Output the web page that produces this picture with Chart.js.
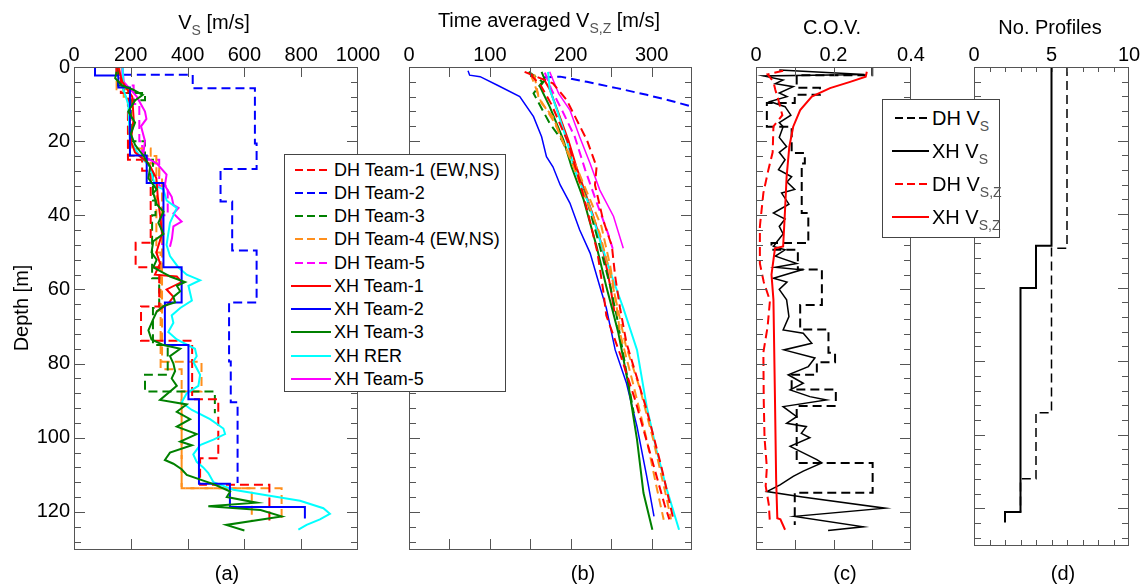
<!DOCTYPE html>
<html>
<head>
<meta charset="utf-8">
<script src="https://cdn.jsdelivr.net/npm/chart.js@4.4.1/dist/chart.umd.min.js"></script>
<style>
  body { margin: 0; background: #fff; }
  #fig { position: relative; width: 1145px; height: 586px; overflow: hidden;
         font-family: 'Liberation Sans', Arial, sans-serif; color: #000; }
  canvas { position: absolute; top: 0; }
  .lbl { position: absolute; font-size: 20px; line-height: 24px; white-space: nowrap; transform: translateX(-50%); }
  sub { font-size: 14px; color: #555; vertical-align: -6px; line-height: 0; }
  .legbox { position: absolute; box-sizing: border-box; background: #fff; border: 1px solid #444; z-index: 5; }
  .fila { position: absolute; left: 0; display: flex; align-items: center; white-space: nowrap; }
  .fila svg { flex: none; }
</style>
</head>
<body>
<div id="fig">
  <canvas id="panelA" width="384" height="586" style="left:0px"></canvas>
  <canvas id="panelB" width="340" height="586" style="left:380px"></canvas>
  <canvas id="panelC" width="210" height="586" style="left:720px"></canvas>
  <canvas id="panelD" width="215" height="586" style="left:930px"></canvas>

  <div class="lbl" style="left:214px;top:10px">V<sub>S</sub> [m/s]</div>
  <div class="lbl" style="left:549px;top:8px">Time averaged V<sub>S,Z</sub> [m/s]</div>
  <div class="lbl" style="left:832px;top:15px">C.O.V.</div>
  <div class="lbl" style="left:1050px;top:15px">No. Profiles</div>

  <div class="lbl" style="left:227px;top:561px">(a)</div>
  <div class="lbl" style="left:583px;top:561px">(b)</div>
  <div class="lbl" style="left:845px;top:561px">(c)</div>
  <div class="lbl" style="left:1063px;top:561px">(d)</div>

  <div id="legA" class="legbox" style="left:284px;top:154px;width:222px;height:238px"></div>
  <div id="legC" class="legbox" style="left:882px;top:99px;width:118px;height:139px"></div>
</div>
<script>
// Colores de cada equipo
const ROJO = '#ff0000', AZUL = '#0000ff', VERDE = '#008000', NARANJA = '#ff8f1c',
      MAGENTA = '#ff00ff', CIAN = '#00ffff', NEGRO = '#000000';

// ---- Panel (a): Vs [m/s] y profundidad [m] ----
// Perfiles DH escalonados: valor de cada capa y profundidad de su techo
const aDh1Vs = [150, 165, 190, 240, 270, 217, 300, 236, 416, 508, 444, 688, 688];
const aDh1Z  = [0, 3, 7, 25, 28, 47.4, 54, 64.6, 73.8, 89.6, 105.5, 112.7, 122.6];
const aDh2Vs = [150, 418, 637, 643, 516, 557, 643, 546, 552, 576, 576];
const aDh2Z  = [0, 2.1, 5.7, 20.6, 27.5, 36.3, 49.5, 63.5, 79.4, 90.4, 112.2];
const aDh3Vs = [155, 175, 250, 200, 250, 278, 287, 275, 300, 278, 330, 250, 496, 496];
const aDh3Z  = [0, 5, 7, 9, 20, 25, 36, 40, 57, 65, 75, 83, 87.5, 93.4];
const aDh4aVs = [160, 175, 200, 270, 300, 310, 449, 379, 731, 731];
const aDh4aZ  = [0, 4, 8, 22, 26, 30, 79.5, 87.5, 113.6, 122.6];
const aDh4bVs = [150, 190, 290, 305, 379, 626, 626];
const aDh4bZ  = [0, 6, 24, 50, 81.5, 113.6, 122.6];
const aDh5Vs = [170, 210, 230, 240, 300, 330, 310, 310];
const aDh5Z  = [0, 5, 10, 20, 25, 32, 40, 48];
const aXh2Vs = [74, 156, 197, 256, 315, 379, 320, 403, 440, 549, 813, 813];
const aXh2Z  = [0, 2.3, 5.5, 23.9, 31.3, 54, 63.5, 75, 89.6, 112.4, 118.7, 121.8];
// Perfiles XH continuos
const aXh1Vs = [156, 170, 205, 210, 200, 215, 263, 290, 295, 303, 310, 290, 303, 285, 362, 379, 326, 350, 330, 290];
const aXh1Z  = [0, 4, 8, 14, 20, 23, 26, 30, 35, 40, 45, 50, 53, 56, 56.5, 58, 60, 62, 64, 66];
const aXh3Vs = [150, 145, 169, 205, 242, 215, 191, 215, 200, 215, 245, 268, 262, 291, 279, 291, 315, 297, 315, 279,
                273, 291, 279, 315, 338, 391, 362, 374, 350, 356, 315, 291, 279, 262, 273, 315, 374, 338, 350, 356,
                344, 362, 303, 397, 362, 409, 362, 432, 374, 415, 338, 320, 350, 379, 397, 491, 550, 538, 643, 473,
                657, 731, 536, 600];
const aXh3Z  = [1.3, 3, 5, 6, 7.5, 9, 12, 15, 18, 21, 24, 27, 30, 33, 34, 37, 39, 42, 45, 47,
                50, 52, 54, 55.5, 56.5, 58, 59, 60.5, 62, 63.5, 64.5, 66, 68, 71, 73.5, 75, 76, 78, 80, 82,
                84, 86, 89.8, 91, 93, 95, 97, 99, 101, 102, 104, 106, 107, 108.5, 110, 112.5, 114.5, 116, 117.5, 118.5,
                119.5, 121.2, 123.5, 125];
const aRerVs = [171, 174, 191, 197, 232, 268, 285, 315, 326, 362, 338, 326, 338, 367, 397, 444, 403, 415, 374, 344,
                350, 332, 362, 426, 432, 420, 444, 438, 397, 379, 415, 479, 526, 532, 491, 444, 420, 432, 455, 473,
                491, 561, 678, 796, 878, 901, 866, 819, 790];
const aRerZ  = [0, 6, 10, 20, 24, 27, 32, 33, 36, 38, 42, 48, 51, 54, 56, 57.5, 59, 63, 65, 67,
                69, 71.5, 73.5, 76, 78, 79.5, 83, 86, 88, 90.5, 92.5, 95, 97.5, 99, 100.5, 102, 104.5, 106.5, 108, 109.5,
                112, 114, 115.5, 117, 119, 120.5, 122, 123.5, 124.8];
const aXh5Vs = [171, 175, 221, 250, 255, 236, 250, 243, 291, 326, 320, 344, 350, 368, 350, 379, 350, 345, 338];
const aXh5Z  = [0, 4, 8, 12, 14, 16, 20, 24, 26, 29, 32, 35, 37.2, 38, 39.5, 41.7, 43, 46.2, 48.5];

// ---- Panel (b): Vs,z promedio en el tiempo [m/s] ----
const bDh1aVs = [143, 178, 195, 220, 232, 230, 240, 251, 255, 261, 269, 294, 312, 327];
const bDh1aZ  = [1.3, 4.4, 8.9, 19.7, 26.9, 31.8, 41.2, 48.4, 56.5, 65, 74.5, 92.5, 107.7, 122];
const bDh1bVs = [150, 163, 176, 196, 210, 222, 233, 240, 244, 262, 280, 298, 316, 322];
const bDh1bZ  = [2, 5, 10, 20, 30, 40, 50, 60, 67, 78, 90, 104, 118, 122];
const bDh2Vs = [166, 187, 220, 257, 294, 327, 350, 362];
const bDh2Z  = [2.8, 2.6, 4, 5.7, 7.5, 9.3, 10.7, 11.4];
const bDh3Vs = [148, 165, 154, 174, 189, 201, 220, 236, 249, 257, 267, 278];
const bDh3Z  = [1.3, 4, 7.1, 15.2, 19.7, 25.1, 35.8, 48.4, 59.2, 67.3, 80, 93.4];
const bDh4aVs = [150, 164, 178, 191, 207, 224, 238, 249, 257, 261, 277, 294, 306, 315];
const bDh4aZ  = [1.7, 9.8, 13.4, 20.6, 26.9, 35.8, 43, 53.8, 65, 71.8, 85.3, 100.5, 113.1, 122.1];
const bDh4bVs = [155, 160, 180, 200, 218, 236, 248, 258, 268, 286, 302, 319, 324];
const bDh4bZ  = [2, 8, 15, 25, 35, 45, 55, 65, 75, 87, 100.5, 116.7, 122];
const bDh5Vs = [168, 176, 190, 205, 218, 234, 246, 252];
const bDh5Z  = [1.5, 6, 12, 18.8, 27.8, 37.7, 44.8, 49];
const bXh1Vs = [166, 174, 197, 207, 228, 240, 249, 254];
const bXh1Z  = [3, 6, 19.7, 26.9, 40.3, 49.3, 59.2, 66];
const bXh2Vs = [73, 75, 88, 110, 137, 154, 164, 170, 178, 187, 199, 211, 224, 236, 244, 255, 269, 282, 294, 303];
const bXh2Z  = [1, 2.2, 2.6, 5, 8, 13.4, 18.8, 24.2, 26.9, 31.8, 36.7, 43.9, 50.2, 59.2, 65, 76.3, 85.3, 97, 110.4, 121.2];
const bXh3Vs = [164, 168, 162, 174, 191, 201, 216, 232, 244, 251, 259, 271, 282, 290, 301];
const bXh3Z  = [1.3, 3.5, 5.3, 10.7, 19.7, 26.9, 35.8, 48.4, 59.2, 65, 71.8, 85.3, 100.5, 114.9, 124.8];
const bRerVs = [172, 174, 183, 195, 205, 222, 236, 251, 265, 282, 294, 306, 319, 334];
const bRerZ  = [1.3, 6, 11.6, 19.7, 27.8, 36.7, 46.6, 56.5, 65, 76.3, 91.6, 103.2, 114, 124.8];
const bXh5Vs = [174, 185, 199, 211, 224, 236, 253, 265];
const bXh5Z  = [1.3, 7.1, 11.6, 18.8, 26, 33.2, 40.3, 48.9];

// ---- Panel (c): coeficiente de variacion ----
const cDhVs = [0.30, 0.105, 0.165, 0.10, 0.028, 0.092, 0.126, 0.118, 0.135, 0.04, 0.108, 0.17, 0.114, 0.187, 0.204,
               0.157, 0.092, 0.206, 0.105, 0.301, 0.1, 0.1];
const cDhVsZ = [0, 2.2, 5.6, 7.5, 9.7, 16.1, 23.2, 26, 39.4, 47.5, 49.3, 54.6, 64.2, 70.8, 77.1,
                79.6, 83, 87, 91.4, 106.8, 114.8, 123.5];
const cXhVs = [0.06, 0.28, 0.02, 0.07, 0.05, 0.096, 0.06, 0.08, 0.036, 0.075, 0.09, 0.06, 0.07, 0.06, 0.079, 0.06, 0.075,
               0.058, 0.092, 0.08, 0.1, 0.066, 0.085, 0.045, 0.075, 0.06, 0.07, 0.055, 0.045, 0.075, 0.05, 0.105, 0.05,
               0.118, 0.045, 0.08, 0.06, 0.079, 0.085, 0.07, 0.122, 0.144, 0.072, 0.152, 0.135, 0.083, 0.122, 0.088,
               0.139, 0.182, 0.07, 0.105, 0.079, 0.13, 0.117, 0.139, 0.088, 0.157, 0.17, 0.122, 0.096, 0.062, 0.028,
               0.12, 0.333, 0.1, 0.277, 0.186];
const cXhVsZ = [0.8, 2, 2.4, 3.5, 4.5, 5.3, 7, 8, 9.3, 10.7, 13, 15, 16.1, 19, 21.5, 23, 25,
                27.7, 29.6, 31, 33, 34, 37, 39.4, 41, 43, 45, 47, 48.4, 49.3, 51, 53, 54,
                54.7, 57, 58, 60, 62.8, 67.3, 70.9, 71.8, 74.5, 76.3, 78.5, 80.8, 83, 85.3, 87.1,
                88.9, 89.8, 91.6, 94.3, 96.1, 97, 98.8, 100, 102.3, 105.9, 106.8, 109, 110.4, 112.7, 114.5,
                116, 119, 121.2, 124, 125];
const cDhVsz = [0.07, 0.03, 0.045, 0.05, 0.058, 0.068, 0.045, 0.043, 0.032, 0.019, 0.010, 0.010, 0.02, 0.036, 0.03,
                0.019, 0.02, 0.022, 0.028, 0.025, 0.033, 0.036];
const cDhVszZ = [1, 2, 4, 6.2, 9, 13, 16, 23, 27.7, 34, 43, 53, 58, 63, 70, 77, 90, 100, 108, 113, 118, 123];
const cXhVsz = [0.286, 0.283, 0.243, 0.191, 0.144, 0.114, 0.096, 0.086, 0.079, 0.075, 0.070, 0.049, 0.04, 0.045,
                0.049, 0.052, 0.055, 0.063, 0.075];
const cXhVszZ = [1.3, 2.6, 4, 5.7, 8, 11.6, 16.1, 21.5, 29.6, 38.5, 48.4, 48.9, 56, 62.8, 89.8, 111.3, 121.7, 122, 124.8];

// ---- Panel (d): numero de perfiles ----
const dXhN = [5, 4, 3, 2, 2];
const dXhZ = [0, 48.6, 60.1, 121, 123.9];
const dDhN = [6, 5, 4, 3, 3];
const dDhZ = [0, 49.3, 94, 112, 121];

const FUENTE = "'Liberation Sans', Arial, sans-serif";
Chart.defaults.font.family = FUENTE;
Chart.defaults.color = '#000';

// Convierte valores y profundidades en un dataset de linea
function serie(valores, prof, color, discontinua, escalon, ancho) {
    return {
        data: valores.map((v, i) => ({ x: v, y: prof[i] })),
        borderColor: color,
        borderWidth: ancho || 2,
        borderDash: discontinua ? [9, 5] : [],
        stepped: escalon ? 'after' : false,
        tension: 0,
        pointRadius: 0,
        showLine: true,
        fill: false,
    };
}

// Marco del grafico y marcas de escala hacia dentro (estilo Matlab)
const marco = {
    id: 'marco',
    afterDatasetsDraw(chart, args, o) {
        const { ctx, chartArea: a, scales: { x, y } } = chart;
        ctx.save();
        ctx.strokeStyle = '#555';
        ctx.lineWidth = 1;
        ctx.beginPath();
        const nx = Math.round((x.max - x.min) / o.xStep);
        for (let i = 1; i < nx; i++) {
            const px = Math.round(x.getPixelForValue(x.min + i * o.xStep)) + 0.5;
            ctx.moveTo(px, a.top); ctx.lineTo(px, a.top + o.xLen);
            ctx.moveTo(px, a.bottom); ctx.lineTo(px, a.bottom - o.xLen);
        }
        for (let v = 4; v < y.max; v += 4) {
            const py = Math.round(y.getPixelForValue(v)) + 0.5;
            const len = v % 20 === 0 ? 11 : 7;
            ctx.moveTo(a.left, py); ctx.lineTo(a.left + len, py);
            ctx.moveTo(a.right, py); ctx.lineTo(a.right - len, py);
        }
        ctx.stroke();
        ctx.strokeRect(Math.round(a.left) + 0.5, Math.round(a.top) + 0.5,
                       Math.round(a.right - a.left) - 1, Math.round(a.bottom - a.top));
        ctx.restore();
    }
};

function crearPanel(id, datasets, ejeX, anchoY, padDer, padAbajo, marcas, tituloY) {
    // los ultimos datasets quedan encima
    datasets.forEach((d, i) => { d.order = datasets.length - i; });
    return new Chart(document.getElementById(id), {
        type: 'scatter',
        data: { datasets },
        options: {
            responsive: false,
            animation: false,
            layout: { padding: { left: 0, top: 0, right: padDer, bottom: padAbajo } },
            plugins: { legend: { display: false }, tooltip: { enabled: false }, marco: marcas },
            scales: {
                x: {
                    type: 'linear', position: 'top',
                    min: ejeX.min, max: ejeX.max,
                    grid: { display: false, drawTicks: false },
                    border: { display: false },
                    ticks: {
                        stepSize: ejeX.paso, padding: 0, includeBounds: false, autoSkip: false,
                        maxRotation: 0, font: { size: 20 }, callback: ejeX.texto
                    },
                    afterFit: s => { s.height = 67; }
                },
                y: {
                    type: 'linear', position: 'left', reverse: true, min: 0, max: 130,
                    grid: { display: false, drawTicks: false },
                    border: { display: false },
                    title: tituloY ? { display: true, text: tituloY, font: { size: 20 }, padding: { top: 10, bottom: 0 } }
                                   : { display: false },
                    ticks: {
                        display: !!tituloY, stepSize: 20, padding: 4, includeBounds: false, autoSkip: false,
                        font: { size: 20 }
                    },
                    afterFit: s => { s.width = anchoY; }
                }
            }
        },
        plugins: [marco]
    });
}

// Entradas de la leyenda del panel (a)
const leyendaA = [
    { texto: 'DH Team-1 (EW,NS)', color: ROJO, disc: true },
    { texto: 'DH Team-2', color: AZUL, disc: true },
    { texto: 'DH Team-3', color: VERDE, disc: true },
    { texto: 'DH Team-4 (EW,NS)', color: NARANJA, disc: true },
    { texto: 'DH Team-5', color: MAGENTA, disc: true },
    { texto: 'XH Team-1', color: ROJO, disc: false },
    { texto: 'XH Team-2', color: AZUL, disc: false },
    { texto: 'XH Team-3', color: VERDE, disc: false },
    { texto: 'XH RER', color: CIAN, disc: false },
    { texto: 'XH Team-5', color: MAGENTA, disc: false },
];

crearPanel('panelA', [
    serie(aDh2Vs, aDh2Z, AZUL, true, true),
    serie(aDh5Vs, aDh5Z, MAGENTA, true, true),
    serie(aDh4bVs, aDh4bZ, NARANJA, true, true),
    serie(aDh4aVs, aDh4aZ, NARANJA, true, true),
    serie(aDh3Vs, aDh3Z, VERDE, true, true),
    serie(aDh1Vs, aDh1Z, ROJO, true, true),
    serie(aXh5Vs, aXh5Z, MAGENTA, false, false),
    serie(aRerVs, aRerZ, CIAN, false, false),
    serie(aXh1Vs, aXh1Z, ROJO, false, false),
    serie(aXh2Vs, aXh2Z, AZUL, false, true),
    serie(aXh3Vs, aXh3Z, VERDE, false, false),
], { min: 0, max: 1000, paso: 200, texto: v => v }, 74, 26, 37,
   { xStep: 200, xLen: 10 }, 'Depth [m]');

crearPanel('panelB', [
    serie(bDh2Vs, bDh2Z, AZUL, true, false),
    serie(bXh2Vs, bXh2Z, AZUL, false, false, 1.5),
    serie(bXh5Vs, bXh5Z, MAGENTA, false, false, 1.5),
    serie(bDh5Vs, bDh5Z, MAGENTA, true, false),
    serie(bXh1Vs, bXh1Z, ROJO, false, false),
    serie(bXh3Vs, bXh3Z, VERDE, false, false),
    serie(bRerVs, bRerZ, CIAN, false, false),
    serie(bDh3Vs, bDh3Z, VERDE, true, false),
    serie(bDh4aVs, bDh4aZ, NARANJA, true, false),
    serie(bDh4bVs, bDh4bZ, NARANJA, true, false),
    serie(bDh1aVs, bDh1aZ, ROJO, true, false),
    serie(bDh1bVs, bDh1bZ, ROJO, true, false),
], { min: 0, max: 350, paso: 100, texto: v => (v % 100 === 0 ? v : '') }, 29, 28, 37,
   { xStep: 50, xLen: 10 });

crearPanel('panelC', [
    serie(cDhVs, cDhVsZ, NEGRO, true, true),
    serie(cXhVs, cXhVsZ, NEGRO, false, false, 1.5),
    serie(cDhVsz, cDhVszZ, ROJO, true, false),
    serie(cXhVsz, cXhVszZ, ROJO, false, false),
], { min: 0, max: 0.4, paso: 0.2, texto: v => (v === 0 ? '0' : v.toFixed(1)) }, 36, 19, 37,
   { xStep: 0.1, xLen: 9 });

crearPanel('panelD', [
    serie(dDhN, dDhZ, NEGRO, true, true, 1.5),
    serie(dXhN, dXhZ, NEGRO, false, true),
], { min: 0, max: 10, paso: 5, texto: v => v }, 44, 16, 41,
   { xStep: 1, xLen: 5 });

// Leyendas en HTML, encima de los lienzos
function muestraLinea(color, disc, ancho, x0) {
    return `<svg width="${ancho}" height="20"><line x1="${disc ? x0 : 0}" y1="10" x2="${ancho}" y2="10"
            stroke="${color}" stroke-width="2" ${disc ? 'stroke-dasharray="8,4"' : ''}/></svg>`;
}

const legA = document.getElementById('legA');
leyendaA.forEach((e, i) => {
    const fila = document.createElement('div');
    fila.className = 'fila';
    fila.style.cssText = `top:${4.5 + i * 23.25}px;left:6px;height:20px;font-size:18px;line-height:20px;`;
    fila.innerHTML = muestraLinea(e.color, e.disc, 40, 4) + `<span style="margin-left:3px">${e.texto}</span>`;
    legA.appendChild(fila);
});

const leyendaC = [
    { texto: 'DH V<sub>S</sub>', color: NEGRO, disc: true },
    { texto: 'XH V<sub>S</sub>', color: NEGRO, disc: false },
    { texto: 'DH V<sub>S,Z</sub>', color: ROJO, disc: true },
    { texto: 'XH V<sub>S,Z</sub>', color: ROJO, disc: false },
];
const legC = document.getElementById('legC');
leyendaC.forEach((e, i) => {
    const fila = document.createElement('div');
    fila.className = 'fila';
    fila.style.cssText = `top:${8 + i * 33}px;left:9px;height:20px;font-size:20px;line-height:20px;`;
    fila.innerHTML = muestraLinea(e.color, e.disc, 37, 3) + `<span style="margin-left:3px">${e.texto}</span>`;
    legC.appendChild(fila);
});
</script>
</body>
</html>
